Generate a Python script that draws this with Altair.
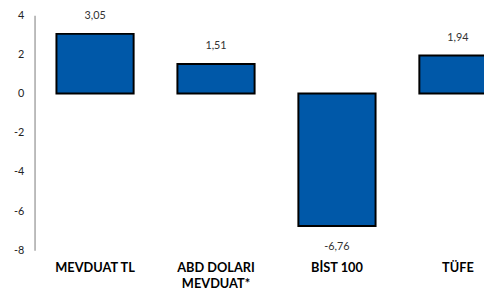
import altair as alt
import pandas as pd

categories = ["MEVDUAT TL", "ABD DOLARI|MEVDUAT*", "BİST 100", "TÜFE"]
values = [3.05, 1.51, -6.76, 1.94]
value_labels = ["3,05", "1,51", "-6,76", "1,94"]
y_ticks = [-8, -6, -4, -2, 0, 2, 4]

df = pd.DataFrame({"cat": categories, "val": values, "lbl": value_labels})

FONT = "Lato"

x = alt.X(
    "cat:N",
    sort=categories,
    scale=alt.Scale(range=[0, 492], paddingInner=0.362, paddingOuter=0.181),
    axis=alt.Axis(
        title=None, ticks=False, domain=False, labelAngle=0,
        labelFont=FONT, labelFontWeight="bold", labelFontSize=13,
        labelColor="#000000", labelPadding=12, labelLineHeight=16,
        labelExpr="split(datum.label, '|')", labelLimit=200,
    ),
)
y = alt.Y(
    "val:Q",
    scale=alt.Scale(domain=[-8, 4], nice=False, zero=False),
    axis=alt.Axis(
        title=None, values=y_ticks, grid=False, ticks=False,
        domainColor="#a6a6a6", domainWidth=1.5,
        labelFont=FONT, labelFontSize=11, labelColor="#222222",
        labelPadding=11, labelExpr="toString(datum.value)",
    ),
)

base = alt.Chart(df)

bars = base.mark_bar(
    color="#0058a8", stroke="#000000", strokeWidth=2, clip=False
).encode(x=x, y=y, y2=alt.datum(0))

pos_text = base.transform_filter("datum.val >= 0").mark_text(
    dy=-18, font=FONT, fontSize=11, color="#333333", baseline="middle"
).encode(x=x, y=y, text="lbl:N")

neg_text = base.transform_filter("datum.val < 0").mark_text(
    dy=21, font=FONT, fontSize=11, color="#333333", baseline="middle"
).encode(x=x, y=y, text="lbl:N")

chart = (
    alt.layer(bars, pos_text, neg_text)
    .properties(
        width=457, height=239,
        autosize=alt.AutoSizeParams(type="none"),
        padding={"left": 27, "top": 5, "right": 0, "bottom": 39},
        background="#ffffff",
    )
    .configure_view(stroke=None)
)

chart.save("out.html", embed_options={"renderer": "svg", "actions": False})
